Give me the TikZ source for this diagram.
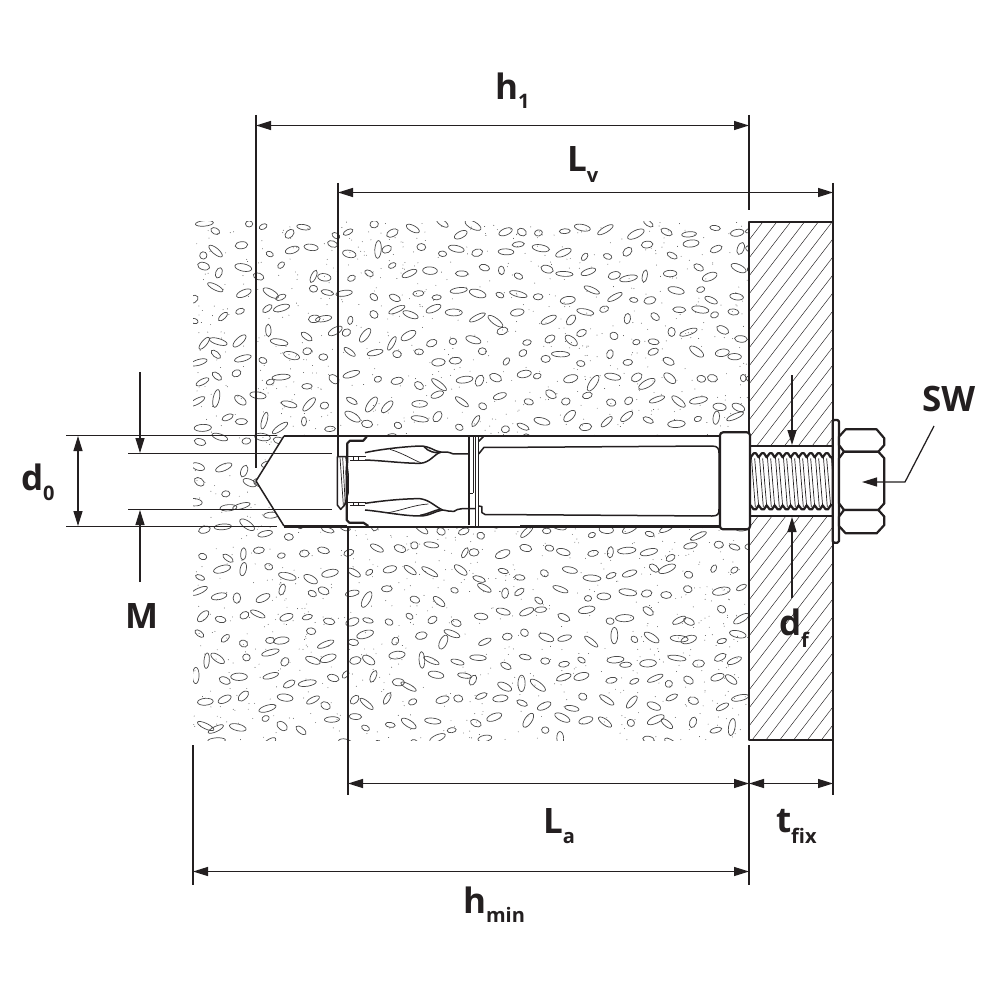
\documentclass[tikz,border=0pt]{standalone}
\usepackage{fontspec}
\setmainfont{Open Sans}
\usetikzlibrary{arrows.meta,calc}
\definecolor{ink}{HTML}{231F20}
\definecolor{stone}{HTML}{4A4A4A}
\tikzset{
  dim/.style={draw=ink,line width=1.25pt},
  dimarrow/.style={dim,{Triangle[length=15pt,width=9pt]}-{Triangle[length=15pt,width=9pt]}},
  leader/.style={dim,-{Triangle[length=15pt,width=9pt]}},
  outline/.style={draw=ink,line width=1.5pt,line join=round},
  heavy/.style={draw=ink,line width=2.2pt,line join=round},
  fine/.style={draw=ink,line width=0.7pt,line join=round},
  lab/.style={anchor=base west,inner sep=0pt,outer sep=0pt,text=ink,font=\fontsize{35}{35}\selectfont\bfseries},
}
\newcommand{\lowsub}[2]{\raisebox{#1}{\fontsize{20}{20}\selectfont #2}}
\begin{document}
\begin{tikzpicture}[x=1pt,y=-1pt]
\useasboundingbox (0,0) rectangle (1000,1000);
\fill[white] (0,0) rectangle (1000,1000);
% concrete
\pgfmathsetseed{4711}
\begin{scope}
\clip (193,222) rectangle (749,740);
\foreach \i in {0,...,26}{\foreach \j in {0,...,24}{
  \pgfmathsetmacro{\cx}{193+\i*21.5+rnd*14}
  \pgfmathsetmacro{\cy}{222+\j*21.5+rnd*14}
  \pgfmathsetmacro{\ra}{3.6+rnd*5.6}
  \pgfmathsetmacro{\rb}{min(\ra,2.4+rnd*1.4)}
  \pgfmathsetmacro{\rot}{-40+rnd*70+(rnd>0.85)*65}
  \draw[stone,line width=0.7pt,rotate around={\rot:(\cx,\cy)}] (\cx,\cy) ellipse [x radius=\ra,y radius=\rb];
}}
\foreach \k in {1,...,1500}{
  \pgfmathsetmacro{\cx}{193+rnd*556}
  \pgfmathsetmacro{\cy}{222+rnd*518}
  \fill[stone] (\cx,\cy) circle (0.45);
}
\end{scope}
% hole
\fill[white] (284,436) -- (256,481) -- (284,526) -- (749,526) -- (749,436) -- cycle;
% plate
\fill[white] (749,222) rectangle (833,740);
\begin{scope}
\clip (749,222) rectangle (833,446) (749,516) rectangle (833,740);
\foreach \s in {0,18,...,700}{
  \draw[ink,line width=0.45pt] (749,222+\s) -- ++(84,-84*1.3);
}
\end{scope}
\draw[outline] (749,222) rectangle (833,740);
\fill[white] (750,447) rectangle (833,516);
% reference coordinates
\coordinate (h1a) at (256,125.5); \coordinate (h1b) at (749,125.5);
\coordinate (lva) at (338,192.5); \coordinate (lvb) at (833,192.5);
\coordinate (laa) at (348,783.5); \coordinate (lab) at (749,783.5);
\coordinate (tfb) at (833,783.5);
\coordinate (hma) at (193,871.5); \coordinate (hmb) at (749,871.5);
\coordinate (d0a) at (78,436); \coordinate (d0b) at (78,526);
\coordinate (ma) at (140,372); \coordinate (mat) at (140,453);
\coordinate (mb) at (140,582); \coordinate (mbt) at (140,510);
\coordinate (dfa) at (792,375); \coordinate (dfat) at (792,445);
\coordinate (dfb) at (792,598); \coordinate (dfbt) at (792,517);
\coordinate (swa) at (934,426); \coordinate (swb) at (905,482); \coordinate (swt) at (862,482);
% extension lines
\draw[dim] (256,115) -- (256,468);
\draw[dim] (749,115) -- (749,210);
\draw[dim] (338,183) -- (338,456);
\draw[dim] (833,183) -- (833,222);
\draw[dim] (348,528) -- (348,795);
\draw[dim] (749,745) -- (749,885);
\draw[dim] (833,740) -- (833,795);
\draw[dim] (193,745) -- (193,885);
\draw[dim] (66,435.5) -- (277,435.5);
\draw[dim] (66,526.5) -- (277,526.5);
\draw[dim] (128,453.5) -- (332,453.5);
\draw[dim] (128,509.5) -- (332,509.5);
% dimensions
\draw[dimarrow] (h1a) -- (h1b);
\draw[dimarrow] (lva) -- (lvb);
\draw[dimarrow] (laa) -- (lab);
\draw[dimarrow] (lab) -- (tfb);
\draw[dimarrow] (hma) -- (hmb);
\draw[dimarrow] (d0a) -- (d0b);
\draw[leader] (ma) -- (mat);
\draw[leader] (mb) -- (mbt);
\draw[leader] (dfa) -- (dfat);
\draw[leader] (dfb) -- (dfbt);
% hole outline
\draw[outline] (284,436) -- (256,481) -- (284,526);
\draw[heavy] (284,436) -- (720,436);
\draw[heavy] (284,526.5) -- (720,526.5);
% anchor, expansion end (coordinates read at 3x from x=320,y=410)
\begin{scope}[shift={(320,410)},x=0.3333pt,y=-0.3333pt]
\fill[white] (82,83) rectangle (600,347);
\draw[heavy] (140,80) -- (130,92) -- (90,92) -- (82,100) -- (82,140) .. controls (82,170) and (78,180) .. (80,200) -- (80,330) -- (88,338) -- (130,338) -- (145,348);
\draw[outline] (52,140) -- (78,140) -- (84,190) -- (84,250) -- (74,285) -- (62,298) -- (52,285) -- cycle;
\draw[fine] (60,142) -- (70,285);
\draw[fine] (68,142) -- (76,285);
% upper jaw
\draw[outline] (135,128) .. controls (180,118) and (250,110) .. (300,108) .. controls (330,108) and (345,125) .. (362,126) .. controls (385,126) and (385,126) .. (400,132) -- (445,132);
\draw[outline] (135,150) .. controls (190,152) and (250,160) .. (300,160) .. controls (330,158) and (340,135) .. (362,126);
\draw[fine] (210,118) .. controls (250,130) and (280,150) .. (302,158);
\draw[outline] (312,110) .. controls (325,125) and (345,130) .. (362,128);
\draw[fine] (85,140) -- (138,140) (90,150) -- (135,150) (100,140) -- (100,152) (115,140) -- (115,152);
% lower jaw
\draw[outline] (135,300) .. controls (190,305) and (250,318) .. (300,318) .. controls (330,318) and (345,303) .. (368,300) .. controls (385,302) and (390,306) .. (402,304) .. controls (415,294) and (430,296) .. (465,296);
\draw[outline] (135,280) .. controls (190,272) and (250,266) .. (300,266) .. controls (330,270) and (345,290) .. (368,300);
\draw[fine] (205,308) .. controls (250,300) and (280,285) .. (325,282);
\draw[outline] (300,316) .. controls (325,312) and (345,300) .. (360,298);
\draw[fine] (85,276) -- (138,276) (90,286) -- (135,286) (100,276) -- (100,288) (115,276) -- (115,288);
% rings
\draw[outline] (447,82) -- (447,345) (460,82) -- (460,250) (467,82) -- (467,348) (476,82) -- (476,348);
\draw[fine] (450,250) -- (460,250);
\draw[outline] (476,94) -- (490,80);
\draw[outline] (476,132) -- (492,112) -- (600,112);
\draw[outline] (476,288) -- (486,290) -- (486,308) -- (496,314) -- (600,314);
\end{scope}
% shank
\draw[outline] (520,447.3) -- (712,446) .. controls (718,446) and (719,449) .. (719,453) -- (719,509) .. controls (719,514) and (718,516) .. (712,516) -- (520,514.7);
% collar, thread, nut (coordinates read at 3x from x=690,y=400)
\begin{scope}[shift={(690,400)},x=0.3333pt,y=-0.3333pt]
\draw[outline] (180,138) -- (428,138);
\draw[outline] (180,348) -- (428,348);
\foreach \n in {0,...,10}{
  \pgfmathsetmacro{\xa}{182+\n*24}
  \draw[fine] (\xa+2,168) -- (\xa+14,322);
  \draw[fine] (\xa+12,175) -- (\xa+24,318);
}
\draw[heavy] (182,172) \foreach \n in {0,...,9}{ -- ++(9,-12) -- ++(7,0) -- ++(8,12) } -- (428,172);
\draw[heavy] (182,316) \foreach \n in {0,...,9}{ -- ++(9,12) -- ++(7,0) -- ++(8,-12) } -- (428,316);
\draw[heavy,fill=white,rounded corners=3pt] (90,97) rectangle (180,388);
\draw[heavy,fill=white,rounded corners=1.5pt] (428,60) rectangle (447,428);
\draw[heavy,fill=white,line join=round] (467,88) -- (560,88) -- (583,115) -- (583,135) -- (565,155) -- (462,155) -- (447,135) -- (447,110) -- cycle;
\draw[heavy,fill=white,line join=round] (462,155) -- (565,155) -- (583,175) -- (583,310) -- (565,330) -- (462,330) -- (447,310) -- (447,175) -- cycle;
\draw[heavy,fill=white,line join=round] (462,330) -- (565,330) -- (583,350) -- (583,375) -- (560,400) -- (467,400) -- (447,378) -- (447,350) -- cycle;
\end{scope}
\draw[leader] (swa) -- (swb) -- (swt);
% labels
\node[lab] (lh1) at (495,100) {h\lowsub{-9pt}{1}};
\node[lab] (llv) at (567,172) {L\lowsub{-11pt}{v}};
\node[lab] (ld0) at (21,490) {d\lowsub{-10pt}{0}};
\node[lab] (lm) at (125,628) {M};
\node[lab] (ldf) at (779,635) {d\lowsub{-12pt}{f}};
\node[lab] (lsw) at (922,411) {SW};
\node[lab] (lla) at (543,833) {L\lowsub{-10pt}{a}};
\node[lab] (ltf) at (776,832) {t\lowsub{-11pt}{fix}};
\node[lab] (lhm) at (463,913) {h\lowsub{-9pt}{min}};
\end{tikzpicture}
\end{document}
